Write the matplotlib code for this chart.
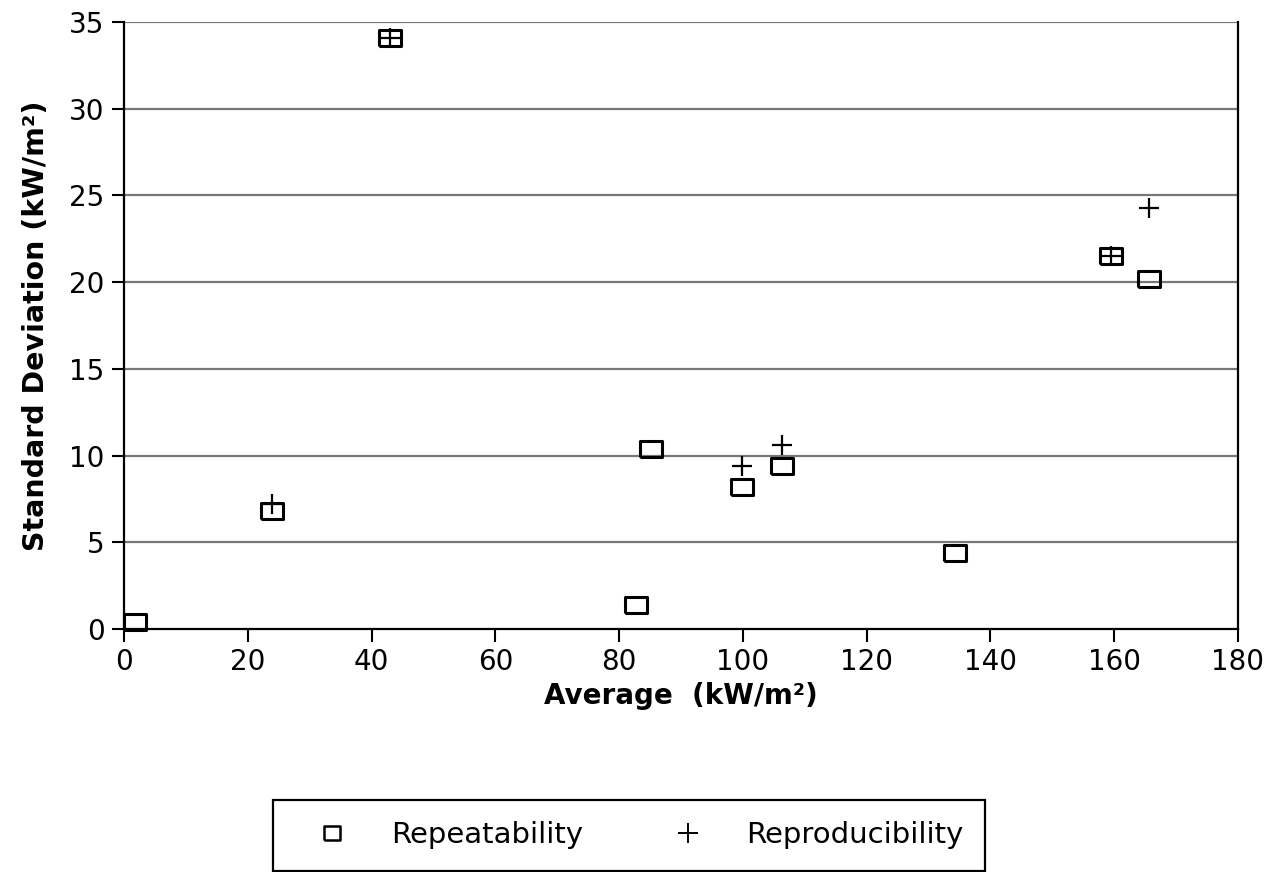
import matplotlib.pyplot as plt
from matplotlib.lines import Line2D

# repeatability (square markers)
rep_x = [1.7, 23.9, 43.0, 82.7, 85.1, 99.8, 106.3, 134.3, 159.5, 165.6]
rep_y = [0.4, 6.8, 34.1, 1.4, 10.4, 8.2, 9.4, 4.4, 21.5, 20.2]

# reproducibility (plus markers)
repro_x = [23.9, 43.0, 99.8, 106.3, 159.5, 165.6]
repro_y = [7.2, 34.1, 9.4, 10.6, 21.5, 24.3]

xticks = list(range(0, 181, 20))
yticks = list(range(0, 36, 5))

rect = [(-1.45, -1), (1.45, -1), (1.45, 1), (-1.45, 1), (-1.45, -1)]
rect_leg = [(-1.2, -1), (1.2, -1), (1.2, 1), (-1.2, 1), (-1.2, -1)]

fig = plt.figure(figsize=(12.81, 8.72), dpi=100)
ax = fig.add_axes([0.0968, 0.2787, 0.8696, 0.6961])

for y in yticks[1:]:
    ax.axhline(y, color="#777777", lw=1.6, zorder=1)

ax.plot(rep_x, rep_y, ls="none", marker=rect, markersize=16, mfc="none",
        mec="black", mew=2.2, clip_on=False, zorder=3)
ax.plot(repro_x, repro_y, ls="none", marker="+", markersize=14, mec="black",
        mew=1.6, clip_on=False, zorder=4)

ax.set_xlim(0, 180)
ax.set_ylim(0, 35)
ax.set_xticks(xticks)
ax.set_yticks(yticks)
ax.tick_params(direction="out", length=9, width=1.5, labelsize=20, pad=5)
for side in ["left", "bottom", "right"]:
    ax.spines[side].set_linewidth(1.6)
    ax.spines[side].set_color("black")
ax.spines["top"].set_visible(False)
ax.tick_params(axis="y", right=False)

ax.set_xlabel("Average  (kW/m²)", fontsize=20, fontweight="bold", labelpad=4)
ax.set_ylabel("Standard Deviation (kW/m²)", fontsize=20.5, fontweight="bold", labelpad=14)

handles = [
    Line2D([], [], ls="none", marker=rect_leg, markersize=12, mfc="none", mec="black", mew=1.8),
    Line2D([], [], ls="none", marker="+", markersize=15, mec="black", mew=1.4),
]
leg = fig.legend(handles, ["Repeatability", "Reproducibility"], loc="center",
                 bbox_to_anchor=(0.491, 0.042), ncol=2, fontsize=21, frameon=True,
                 fancybox=False, edgecolor="black", framealpha=1, handlelength=2.6,
                 handletextpad=0.7, columnspacing=2.3, borderpad=0.75)
leg.get_frame().set_linewidth(1.6)

fig.savefig("out.png", dpi=100)
